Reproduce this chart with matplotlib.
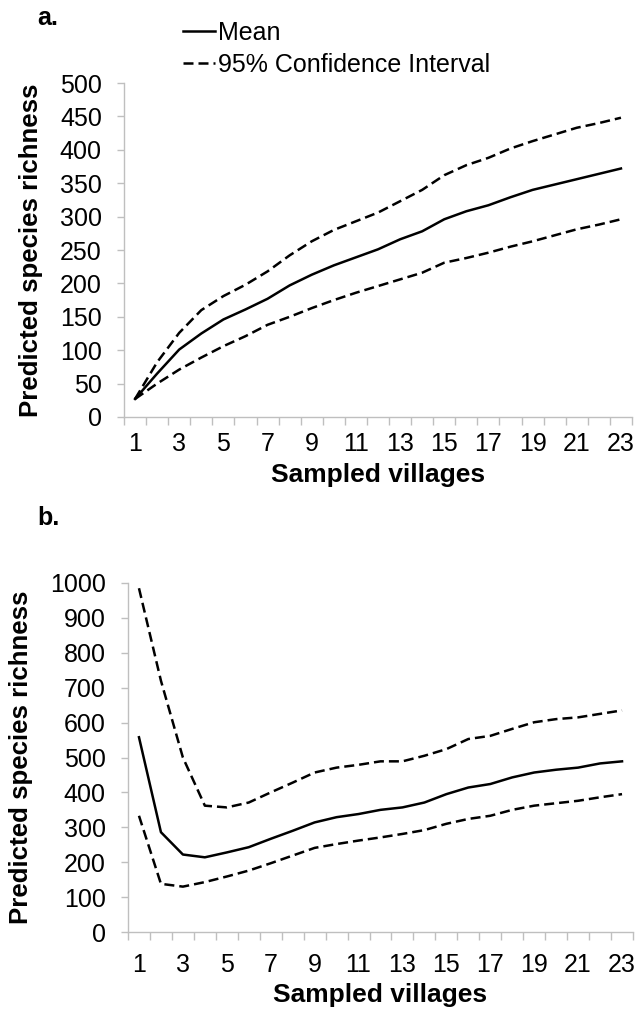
import matplotlib
matplotlib.use("Agg")
import matplotlib.pyplot as plt
import numpy as np

plt.rcParams['font.family'] = ['Liberation Sans', 'DejaVu Sans']

villages = list(range(1, 24))

# panel a
mean_a = [27, 65, 101, 125, 146, 161, 177, 197, 213, 227, 239, 251, 266, 278, 296, 308,
          317, 329, 340, 348, 356, 364, 372]
upper_a = [27, 82, 126, 160, 181, 198, 218, 242, 263, 280, 293, 306, 323, 340, 362, 377,
           388, 402, 413, 423, 433, 440, 448]
lower_a = [27, 50, 71, 89, 106, 121, 138, 150, 163, 175, 186, 196, 206, 216, 231, 238,
           246, 255, 263, 272, 281, 288, 296]

# panel b
mean_b = [558, 286, 222, 214, 228, 243, 267, 290, 314, 329, 338, 350, 357, 371, 395, 414,
          424, 443, 457, 465, 471, 483, 489]
upper_b = [985, 720, 500, 362, 357, 371, 400, 428, 457, 471, 479, 489, 489, 505, 524, 553,
           562, 582, 601, 610, 615, 625, 635]
lower_b = [333, 138, 130, 143, 159, 176, 197, 219, 241, 252, 262, 271, 281, 292, 310, 324,
           333, 350, 362, 369, 376, 386, 395]

W, H = 638, 1009
fig = plt.figure(figsize=(W / 100, H / 100), dpi=100)

def make_ax(l, r, t, b):
    return fig.add_axes([l / W, 1 - b / H, (r - l) / W, (b - t) / H])

ax1 = make_ax(124, 632, 83, 417)
ax2 = make_ax(128, 633, 583, 932)

grey = '#bfbfbf'
dash = (0, (4, 2))

def style(ax, ymax, ystep, xpad, xlab_y, ylab_x):
    for s in ['top', 'right']:
        ax.spines[s].set_visible(False)
    for s in ['left', 'bottom']:
        ax.spines[s].set_color(grey)
        ax.spines[s].set_linewidth(1)
    ax.set_xlim(0.5, 23.5)
    ax.set_ylim(0, ymax)
    ax.set_yticks(np.arange(0, ymax + 1, ystep))
    ax.set_xticks(villages[::2])
    ax.set_xticks(np.arange(0.5, 24, 1), minor=True)
    ax.tick_params(axis='x', which='major', length=0, labelsize=18, pad=xpad)
    ax.tick_params(axis='x', which='minor', length=6, color=grey, width=1)
    ax.tick_params(axis='y', length=5, color=grey, width=1, labelsize=18, pad=11)
    ax.set_xlabel('Sampled villages', fontsize=19, fontweight='bold', va='baseline')
    ax.set_ylabel('Predicted species richness', fontsize=18.6, fontweight='bold')
    ax.xaxis.set_label_coords(0.5, xlab_y)
    ax.yaxis.set_label_coords(ylab_x, 0.5)

ax1.plot(villages, mean_a, color='black', lw=1.8, label='Mean')
ax1.plot(villages, upper_a, color='black', lw=1.8, ls=dash, label='95% Confidence Interval')
ax1.plot(villages, lower_a, color='black', lw=1.8, ls=dash)
style(ax1, 500, 50, 11, -(482 - 417) / 334, (43 - 124) / 508)

ax2.plot(villages, mean_b, color='black', lw=1.8)
ax2.plot(villages, upper_b, color='black', lw=1.8, ls=dash)
ax2.plot(villages, lower_b, color='black', lw=1.8, ls=dash)
style(ax2, 1000, 100, 15, -(1002 - 932) / 349, (33 - 128) / 505)

fig.legend(loc='upper left', bbox_to_anchor=(183 / W, 1 - 21 / H), frameon=False,
           fontsize=18, handlelength=1.28, handletextpad=0.12, labelspacing=0.3,
           borderaxespad=0, borderpad=0)

fig.text(37 / W, 1 - 18 / H, 'a.', fontsize=18, fontweight='bold', va='center')
fig.text(37 / W, 1 - 518 / H, 'b.', fontsize=18, fontweight='bold', va='center')

fig.savefig('out.png', dpi=100)
